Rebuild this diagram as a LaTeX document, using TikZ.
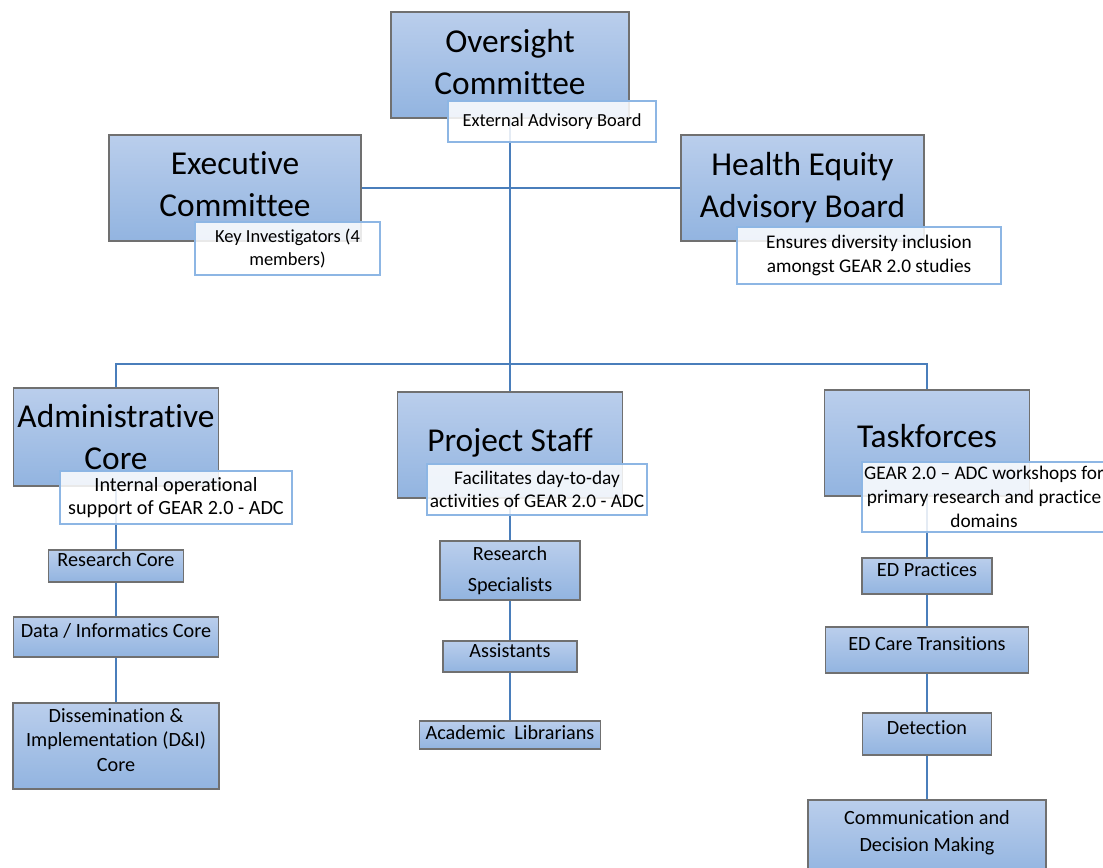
\documentclass[tikz,border=0pt]{standalone}
\usepackage{fontspec}
\setmainfont[Ligatures={TeX,NoCommon}]{Carlito}
\usepackage{xcolor}
\usetikzlibrary{backgrounds}
\newlength\pxu
\setlength\pxu{0.02cm}
\definecolor{boxtop}{RGB}{186,206,236}
\definecolor{boxbot}{RGB}{146,180,224}
\definecolor{boxline}{RGB}{112,112,112}
\definecolor{notebdr}{RGB}{141,182,228}
\definecolor{linkblue}{RGB}{74,126,187}

\begin{document}
\begin{tikzpicture}[x=\pxu,y=-\pxu,
    bigbox/.style={rectangle,top color=boxtop,bottom color=boxbot,draw=boxline,line width=0.6pt,
        align=center,inner sep=0pt,font=\fontsize{19}{24}\selectfont},
    subbox/.style={rectangle,top color=boxtop,bottom color=boxbot,draw=boxline,line width=0.6pt,
        align=center,inner sep=0pt,text depth=7pt,font=\fontsize{11.5}{14}\selectfont},
    notebox/.style={rectangle,fill=white,fill opacity=0.85,text opacity=1,draw=notebdr,line width=0.6pt,
        align=center,inner sep=0pt,font=\fontsize{11.5}{13.5}\selectfont},
    link/.style={draw=linkblue,line width=1.1pt}]
    \useasboundingbox (0,0) rectangle (1103,868);

    % top level
    \node (over) at (510,65) [bigbox,minimum width=238\pxu,minimum height=106\pxu,text depth=3.5pt] {Oversight\\Committee};
    \node (exec) at (235,188) [bigbox,minimum width=252\pxu,minimum height=106\pxu,text depth=5pt] {Executive\\Committee};
    \node (health) at (802.5,188) [bigbox,minimum width=243\pxu,minimum height=106\pxu] {Health Equity\\Advisory Board};
    \node (extab) at (552,121.5) [notebox,minimum width=208\pxu,minimum height=41\pxu,font=\fontsize{10.5}{13}\selectfont] {External Advisory Board};
    \node (keyinv) at (287.5,248.5) [notebox,minimum width=185\pxu,minimum height=53\pxu,font=\fontsize{10.5}{13}\selectfont] {Key Investigators (4\\members)};
    \node (ensures) at (869,255.5) [notebox,minimum width=264\pxu,minimum height=57\pxu,font=\fontsize{11}{14}\selectfont] {Ensures diversity inclusion\\amongst GEAR 2.0 studies};
    \coordinate (bus) at (510,364);

    % left column
    \node (admin) at (116,437) [bigbox,minimum width=205\pxu,minimum height=98\pxu] {Administrative\\Core};
    \node (internal) at (176,497.5) [notebox,minimum width=232\pxu,minimum height=53\pxu] {Internal operational\\support of GEAR 2.0 - ADC};
    \node (rescore) at (116,566) [subbox,minimum width=135\pxu,minimum height=32\pxu] {Research Core};
    \node (datacore) at (116,637) [subbox,minimum width=205\pxu,minimum height=40\pxu] {Data / Informatics Core};
    \node (dicore) at (116,746) [subbox,minimum width=206\pxu,minimum height=86\pxu] {Dissemination \&\\Implementation (D\&I)\\Core};

    % middle column
    \node (staff) at (510,445) [bigbox,minimum width=225\pxu,minimum height=106\pxu,text depth=6pt] {Project Staff};
    \node (facil) at (537,489.5) [notebox,minimum width=220\pxu,minimum height=51\pxu,font=\fontsize{11}{13.5}\selectfont] {Facilitates day-to-day\\activities of GEAR 2.0 - ADC};
    \node (resspec) at (510,570.5) [subbox,minimum width=140\pxu,minimum height=59\pxu,font=\fontsize{11.5}{17.5}\selectfont,text depth=2pt] {Research\\Specialists};
    \node (assist) at (510,656.5) [subbox,minimum width=134\pxu,minimum height=31\pxu] {Assistants};
    \node (librar) at (510,735) [subbox,minimum width=181\pxu,minimum height=28\pxu,text depth=3pt] {Academic~ Librarians};

    % right column
    \node (task) at (927,443) [bigbox,minimum width=205\pxu,minimum height=106\pxu,text depth=8pt] {Taskforces};
    \node (gear) at (984,497) [notebox,minimum width=244\pxu,minimum height=70\pxu,font=\fontsize{11}{13.5}\selectfont] {GEAR 2.0 -- ADC workshops for\\primary research and practice\\domains};
    \node (edprac) at (927,576) [subbox,minimum width=130\pxu,minimum height=36\pxu] {ED Practices};
    \node (edcare) at (927,650) [subbox,minimum width=203\pxu,minimum height=46\pxu] {ED Care Transitions};
    \node (detect) at (927,734) [subbox,minimum width=129\pxu,minimum height=42\pxu] {Detection};
    \node (commdec) at (927,838) [subbox,minimum width=238\pxu,minimum height=76\pxu,font=\fontsize{11.5}{15}\selectfont,text depth=8pt] {Communication and\\Decision Making};

    \begin{scope}[on background layer]
        \draw[link] (over) -- (staff) (exec) -- (health)
        (admin) |- (bus) -| (task);
        \draw[link] (admin) -- (rescore) -- (datacore) -- (dicore);
        \draw[link] (staff) -- (resspec) -- (assist) -- (librar);
        \draw[link] (task) -- (edprac) -- (edcare) -- (detect) -- (commdec);
    \end{scope}
\end{tikzpicture}
\end{document}
